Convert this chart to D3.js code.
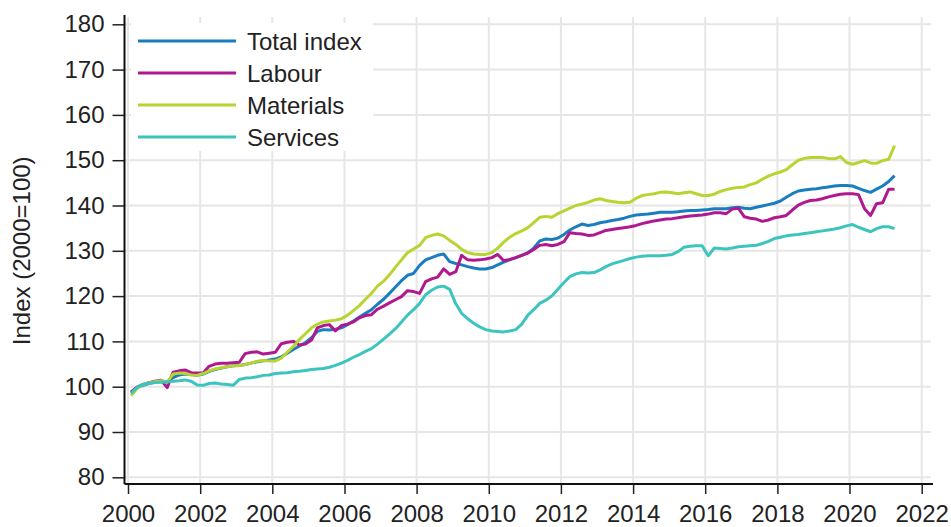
<!DOCTYPE html>
<html>
<head>
<meta charset="utf-8">
<script src="https://cdn.jsdelivr.net/npm/d3@7"></script>
<style>
  html, body { margin: 0; padding: 0; background: #fff; }
  svg { display: block; font-family: "Liberation Sans", Arial, sans-serif; }
</style>
</head>
<body>
<svg id="chart" width="951" height="527"></svg>
<script>
// bimonthly observations, Feb 2000 .. Apr 2021
const months = d3.timeMonth.range(new Date(2000, 1, 1), new Date(2021, 4, 1), 2);

const totalIndex = [
  98.8, 99.8, 100.3, 100.7, 101.0, 101.3,
  101.0, 102.0, 102.6, 102.8, 102.7, 102.5,
  102.8, 103.4, 103.8, 104.1, 104.4, 104.6,
  104.7, 104.9, 105.2, 105.5, 105.7, 105.9,
  106.1, 106.6, 107.4, 108.2, 109.0, 109.7,
  110.8, 112.2, 112.6, 112.5, 112.7, 113.0,
  113.7, 114.5, 115.4, 116.2, 117.0, 118.2,
  119.3, 120.6, 122.0, 123.4, 124.6, 125.0,
  126.8, 128.0, 128.5, 129.0, 129.3, 127.6,
  127.2, 126.9, 126.5, 126.2, 126.0, 126.0,
  126.3, 126.9, 127.5, 128.0, 128.5, 129.0,
  129.6, 130.6, 132.2, 132.6, 132.5, 132.8,
  133.6, 134.6, 135.3, 135.9, 135.6, 135.8,
  136.2, 136.4, 136.7, 136.9, 137.2, 137.6,
  137.9, 138.0, 138.1, 138.3, 138.5, 138.5,
  138.5, 138.6, 138.8, 138.9, 138.9, 139.0,
  139.1, 139.3, 139.3, 139.3, 139.5, 139.6,
  139.4, 139.3, 139.6, 139.9, 140.2, 140.5,
  141.0, 141.8, 142.6, 143.2, 143.4, 143.6,
  143.7, 143.9, 144.1, 144.3, 144.4, 144.4,
  144.3, 143.8, 143.3, 142.9, 143.6, 144.3,
  145.3, 146.6
];
const labour = [
  98.8, 99.9, 100.5, 100.9, 101.2, 101.4,
  99.8, 103.2, 103.5, 103.7, 103.1, 103.0,
  103.1, 104.5, 105.0, 105.2, 105.2, 105.3,
  105.4, 107.3, 107.6, 107.7, 107.2, 107.4,
  107.6, 109.5, 109.8, 110.0, 109.2, 109.4,
  110.3, 113.0, 113.5, 113.7, 112.3, 113.5,
  113.8, 114.3, 115.2, 115.7, 115.9, 117.1,
  117.8, 118.5, 119.2, 119.9, 121.2, 121.0,
  120.6, 123.2, 123.8, 124.2, 126.0, 124.8,
  125.4, 129.0, 128.0, 127.9, 128.0, 128.2,
  128.5, 129.2, 127.8, 128.1, 128.5, 129.0,
  129.5, 130.3, 131.2, 131.4, 131.1, 131.4,
  132.0, 134.0, 133.8, 133.7, 133.4, 133.5,
  134.0, 134.5, 134.7, 134.9, 135.1, 135.3,
  135.6, 136.0, 136.3, 136.6, 136.8, 137.0,
  137.1, 137.3, 137.5, 137.7, 137.8, 137.9,
  138.1, 138.4, 138.4, 138.2, 139.2, 139.4,
  137.5, 137.2, 137.0, 136.5, 136.8, 137.3,
  137.5, 137.8, 139.0, 140.1, 140.7, 141.1,
  141.2, 141.5, 141.9, 142.2, 142.5, 142.6,
  142.6, 142.4, 139.3, 137.8, 140.4, 140.6,
  143.6, 143.6
];
const materials = [
  98.0, 99.6, 100.5, 100.8, 101.1, 101.3,
  101.0, 102.8, 103.0, 102.9, 102.6, 102.5,
  102.9, 103.5, 103.9, 104.2, 104.4, 104.6,
  104.7, 104.9, 105.2, 105.6, 105.8, 105.7,
  105.7, 106.3, 107.6, 108.9, 110.4, 111.7,
  113.0, 113.8, 114.3, 114.5, 114.7, 115.0,
  115.8, 116.8, 117.9, 119.3, 120.6, 122.2,
  123.3, 124.7, 126.4, 128.0, 129.6, 130.4,
  131.2, 132.9, 133.4, 133.7, 133.3, 132.3,
  131.4, 130.3, 129.6, 129.3, 129.2, 129.2,
  129.6, 130.6, 131.9, 133.0, 133.8, 134.4,
  135.1, 136.2, 137.4, 137.6, 137.4, 138.2,
  138.8, 139.4, 140.0, 140.3, 140.7, 141.2,
  141.5, 141.1, 140.9, 140.7, 140.6, 140.7,
  141.6, 142.2, 142.4, 142.6, 142.9, 143.0,
  142.8, 142.6, 142.8, 143.0, 142.6, 142.2,
  142.2, 142.5, 143.1, 143.5, 143.8, 144.0,
  144.1, 144.6, 145.0, 145.8, 146.5, 147.0,
  147.4, 147.9, 149.0, 150.0, 150.4, 150.6,
  150.6, 150.6, 150.4, 150.3, 150.8, 149.5,
  149.1, 149.5, 149.9, 149.4, 149.3, 149.9,
  150.2, 153.2
];
const services = [
  98.5, 99.8, 100.5, 100.8, 100.9, 101.0,
  101.1, 101.2, 101.3, 101.5, 101.2, 100.4,
  100.3, 100.7, 100.8, 100.6, 100.5, 100.3,
  101.6, 101.9, 102.0, 102.2, 102.5, 102.6,
  102.9, 103.0, 103.1, 103.3, 103.4, 103.6,
  103.8, 103.9, 104.0, 104.3, 104.7, 105.2,
  105.8, 106.5, 107.1, 107.8, 108.4, 109.4,
  110.5, 111.6, 112.8, 114.3, 115.8, 117.0,
  118.4, 120.3, 121.3, 122.0, 122.2, 121.5,
  118.3, 116.2, 115.0, 114.0, 113.2, 112.6,
  112.3, 112.2, 112.1, 112.3, 112.6, 113.8,
  115.8, 117.0, 118.4, 119.1, 120.0, 121.5,
  123.0, 124.3, 124.9, 125.2, 125.1, 125.2,
  125.8, 126.5, 127.1, 127.5, 127.9, 128.3,
  128.6, 128.8, 128.9, 128.9, 128.9, 129.0,
  129.2, 129.8, 130.8, 131.0, 131.1, 131.1,
  128.9, 130.6, 130.5, 130.4, 130.6, 130.9,
  131.0, 131.1, 131.2, 131.6, 132.1, 132.7,
  133.0, 133.3, 133.5, 133.6, 133.8, 134.0,
  134.2, 134.4, 134.6, 134.8, 135.1, 135.5,
  135.8, 135.2, 134.7, 134.2, 134.9, 135.3,
  135.3, 134.9
];

const seriesNames = ["Total index", "Labour", "Materials", "Services"];
const seriesColors = ["#1a7dc0", "#b0188f", "#b8d430", "#3cc4bf"];
const yTicks = [80, 90, 100, 110, 120, 130, 140, 150, 160, 170, 180];
const xTickYears = [2000, 2002, 2004, 2006, 2008, 2010, 2012, 2014, 2016, 2018, 2020, 2022];
const yLabel = "Index (2000=100)";

const series = [totalIndex, labour, materials, services].map((vals, i) => ({
  name: seriesNames[i],
  color: seriesColors[i],
  values: vals.map((v, j) => ({ date: months[j], value: v })),
}));

const svg = d3.select("#chart");
const axisX = 124.5, axisY = 484;
const plotRight = 931;
const fontSize = "24px";

const x = d3.scaleTime()
  .domain([new Date(2000, 0, 1), new Date(2022, 0, 1)])
  .range([128, 921.7]);
const y = d3.scaleLinear().domain([80, 180]).range([477.3, 24.3]);

// grid
const grid = svg.append("g").attr("stroke", "#e6e6e6").attr("stroke-width", 2);
grid.selectAll(".gx").data(xTickYears).join("line")
  .attr("x1", (d) => x(new Date(d, 0, 1))).attr("x2", (d) => x(new Date(d, 0, 1)))
  .attr("y1", 17).attr("y2", axisY);
grid.selectAll(".gy").data(yTicks).join("line")
  .attr("x1", axisX).attr("x2", plotRight)
  .attr("y1", (d) => y(d)).attr("y2", (d) => y(d));

// lines
const line = d3.line().x((d) => x(d.date)).y((d) => y(d.value));
svg.append("g").selectAll("path").data(series).join("path")
  .attr("d", (d) => line(d.values))
  .attr("fill", "none")
  .attr("stroke", (d) => d.color)
  .attr("stroke-width", 3)
  .attr("stroke-linejoin", "round");

// axes
const yAxis = svg.append("g")
  .attr("transform", `translate(${axisX},0)`)
  .call(d3.axisLeft(y).tickValues(yTicks).tickSize(12).tickPadding(8));
const xAxis = svg.append("g")
  .attr("transform", `translate(0,${axisY})`)
  .call(d3.axisBottom(x).tickValues(xTickYears.map((yr) => new Date(yr, 0, 1)))
    .tickFormat(d3.timeFormat("%Y")).tickSize(10).tickPadding(11));
[yAxis, xAxis].forEach((a) => {
  a.select(".domain").remove();
  a.selectAll(".tick line").attr("stroke", "#222").attr("stroke-width", 1.5);
  a.selectAll(".tick text").attr("fill", "#222").attr("font-size", fontSize)
    .attr("font-family", "Liberation Sans, Arial, sans-serif");
});
svg.append("line").attr("x1", axisX).attr("x2", axisX).attr("y1", 15).attr("y2", axisY)
  .attr("stroke", "#111").attr("stroke-width", 2);
svg.append("line").attr("x1", axisX).attr("x2", 933).attr("y1", axisY).attr("y2", axisY)
  .attr("stroke", "#111").attr("stroke-width", 2);

svg.append("text")
  .attr("transform", `translate(30,${(y(80) + y(180)) / 2}) rotate(-90)`)
  .attr("text-anchor", "middle")
  .attr("fill", "#222")
  .attr("font-size", fontSize)
  .text(yLabel);

// legend
const legend = svg.append("g");
legend.append("rect").attr("x", 131).attr("y", 23).attr("width", 242).attr("height", 128).attr("fill", "#fff");
const rows = legend.selectAll(".row").data(series).join("g")
  .attr("transform", (d, i) => `translate(138,${41 + i * 32})`);
rows.append("line").attr("x1", 0).attr("x2", 98)
  .attr("stroke", (d) => d.color).attr("stroke-width", 3);
rows.append("text").attr("x", 109).attr("y", 8.5)
  .attr("fill", "#222").attr("font-size", fontSize)
  .text((d) => d.name);
</script>
</body>
</html>
